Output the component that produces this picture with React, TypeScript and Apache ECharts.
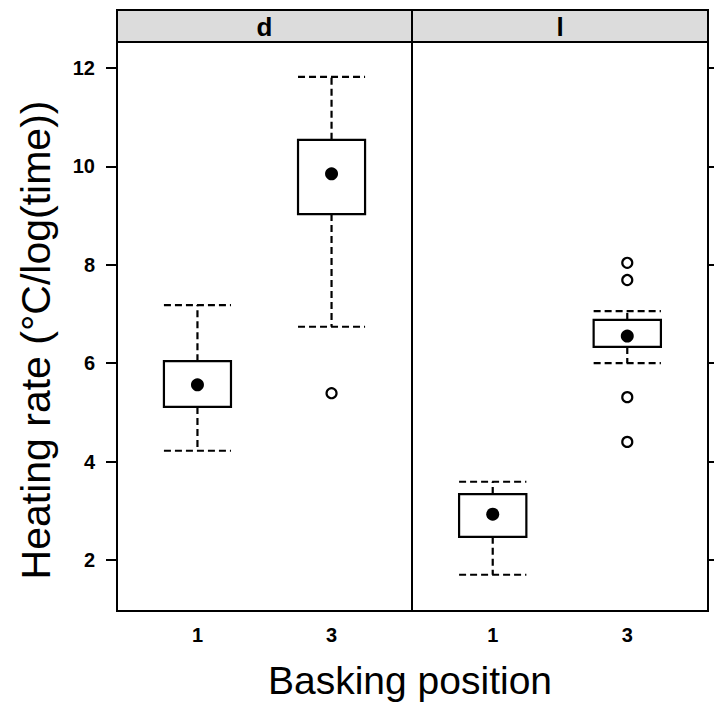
import React, { useEffect, useRef } from "react";
import * as echarts from "echarts";

// ---- data ----
const panels = ["d", "l"];
const categories = ["1", "3"];
const yTicks = [2, 4, 6, 8, 10, 12];
// [low whisker, Q1, median, Q3, high whisker] per category
const boxesD = [
  [4.22, 5.11, 5.56, 6.04, 7.18],
  [6.74, 9.03, 9.85, 10.54, 11.82],
];
const boxesL = [
  [1.7, 2.47, 2.93, 3.34, 3.59],
  [6.0, 6.33, 6.55, 6.88, 7.06],
];
// outliers: [category index, value]
const outliersD = [[1, 5.39]];
const outliersL = [
  [1, 8.04],
  [1, 7.69],
  [1, 5.31],
  [1, 4.4],
];

const FONT = "Liberation Sans, Arial, Helvetica, sans-serif";
const INK = "#000";

function boxData(boxes: number[][]) {
  return boxes.map((b, i) => [i + 1, ...b]);
}
function medianData(boxes: number[][]) {
  return boxes.map((b, i) => [i + 1, b[2]]);
}
function outlierData(o: number[][]) {
  return o.map(([i, v]) => [i + 1, v]);
}

const renderBox = (params: any, api: any) => {
  const x = api.value(0);
  const low = api.coord([x, api.value(1)]);
  const q1 = api.coord([x, api.value(2)]);
  const q3 = api.coord([x, api.value(4)]);
  const high = api.coord([x, api.value(5)]);
  const w = api.size([0.5, 0])[0];
  const cx = low[0];
  const dashed = { stroke: INK, lineWidth: 2.2, lineDash: [7, 4] };
  return {
    type: "group",
    children: [
      { type: "line", shape: { x1: cx, y1: q3[1], x2: cx, y2: high[1] }, style: dashed },
      { type: "line", shape: { x1: cx, y1: q1[1], x2: cx, y2: low[1] }, style: dashed },
      { type: "line", shape: { x1: cx - w / 2, y1: high[1], x2: cx + w / 2, y2: high[1] }, style: dashed },
      { type: "line", shape: { x1: cx - w / 2, y1: low[1], x2: cx + w / 2, y2: low[1] }, style: dashed },
      {
        type: "rect",
        shape: { x: cx - w / 2, y: q3[1], width: w, height: q1[1] - q3[1] },
        style: { stroke: INK, lineWidth: 2.2, fill: "#fff" },
      },
    ],
  };
};

export default function App() {
  const ref = useRef<HTMLDivElement>(null);
  useEffect(() => {
    if (!ref.current) return;
    const chart = echarts.init(ref.current, null, { renderer: "svg" });
    const yMin = 0.963;
    const yMax = 12.528;
    const grids = [
      { left: 117, top: 42, width: 295, height: 569 },
      { left: 412, top: 42, width: 296, height: 569 },
    ];
    const labelStyle = {
      color: INK,
      fontFamily: FONT,
      fontWeight: "bold",
      fontSize: 20,
    };
    const xAxes = grids.map((_, i) => ({
      type: "value",
      gridIndex: i,
      min: 0.4,
      max: 2.6,
      splitLine: { show: false },
      axisLine: { show: false },
      axisTick: { show: false },
      axisLabel: {
        ...labelStyle,
        customValues: [1, 2],
        formatter: (v: number) => categories[Math.round(v) - 1] ?? "",
        margin: 14,
      },
    }));
    const yAxes = grids.map((_, i) => ({
      type: "value",
      gridIndex: i,
      min: yMin,
      max: yMax,
      position: i === 0 ? "left" : "right",
      splitLine: { show: false },
      axisLine: { show: false },
      axisTick: {
        show: true,
        inside: false,
        length: i === 0 ? 11 : 6,
        customValues: yTicks,
        lineStyle: { color: INK, width: 2 },
      },
      axisLabel: {
        ...labelStyle,
        show: i === 0,
        customValues: yTicks,
        margin: 22,
      },
    }));
    const allBoxes = [boxesD, boxesL];
    const allOut = [outliersD, outliersL];
    const series: any[] = [];
    allBoxes.forEach((boxes, i) => {
      series.push({
        type: "custom",
        xAxisIndex: i,
        yAxisIndex: i,
        renderItem: renderBox,
        data: boxData(boxes),
        encode: { x: 0, y: [1, 2, 3, 4, 5] },
        z: 2,
      });
      series.push({
        type: "scatter",
        xAxisIndex: i,
        yAxisIndex: i,
        symbol: "circle",
        symbolSize: 13,
        itemStyle: { color: INK, opacity: 1 },
        data: medianData(boxes),
        z: 3,
      });
      series.push({
        type: "scatter",
        xAxisIndex: i,
        yAxisIndex: i,
        symbol: "circle",
        symbolSize: 10,
        itemStyle: { color: "#fff", borderColor: INK, borderWidth: 2.2, opacity: 1 },
        data: outlierData(allOut[i]),
        z: 3,
      });
    });
    chart.setOption({
      animation: false,
      backgroundColor: "#fff",
      grid: grids.map((g) => ({ ...g, show: true, borderColor: INK, borderWidth: 2, backgroundColor: "transparent", z: 5 })),
      xAxis: xAxes,
      yAxis: yAxes,
      series,
      graphic: [
        {
          type: "rect",
          shape: { x: 117, y: 10, width: 295, height: 32 },
          style: { fill: "#dcdcdc", stroke: INK, lineWidth: 2 },
          z: 10,
        },
        {
          type: "rect",
          shape: { x: 412, y: 10, width: 296, height: 32 },
          style: { fill: "#dcdcdc", stroke: INK, lineWidth: 2 },
          z: 10,
        },
        {
          type: "text",
          x: 264.5,
          y: 27,
          style: { text: panels[0], fill: INK, font: `bold 26px ${FONT}`, align: "center", verticalAlign: "middle" },
          z: 11,
        },
        {
          type: "text",
          x: 560,
          y: 27,
          style: { text: panels[1], fill: INK, font: `bold 26px ${FONT}`, align: "center", verticalAlign: "middle" },
          z: 11,
        },
        {
          type: "text",
          x: 410,
          y: 680,
          style: { text: "Basking position", fill: INK, font: `39px ${FONT}`, align: "center", verticalAlign: "middle" },
        },
        {
          type: "text",
          x: 36,
          y: 340,
          rotation: Math.PI / 2,
          style: {
            text: "Heating rate (°C/log(time))",
            fill: INK,
            font: `41px ${FONT}`,
            align: "center",
            verticalAlign: "middle",
          },
        },
      ],
    });
    return () => chart.dispose();
  }, []);
  return (
    <div
      ref={ref}
      style={{ position: "fixed", left: 0, top: 0, width: 714, height: 705, background: "#fff" }}
    />
  );
}
